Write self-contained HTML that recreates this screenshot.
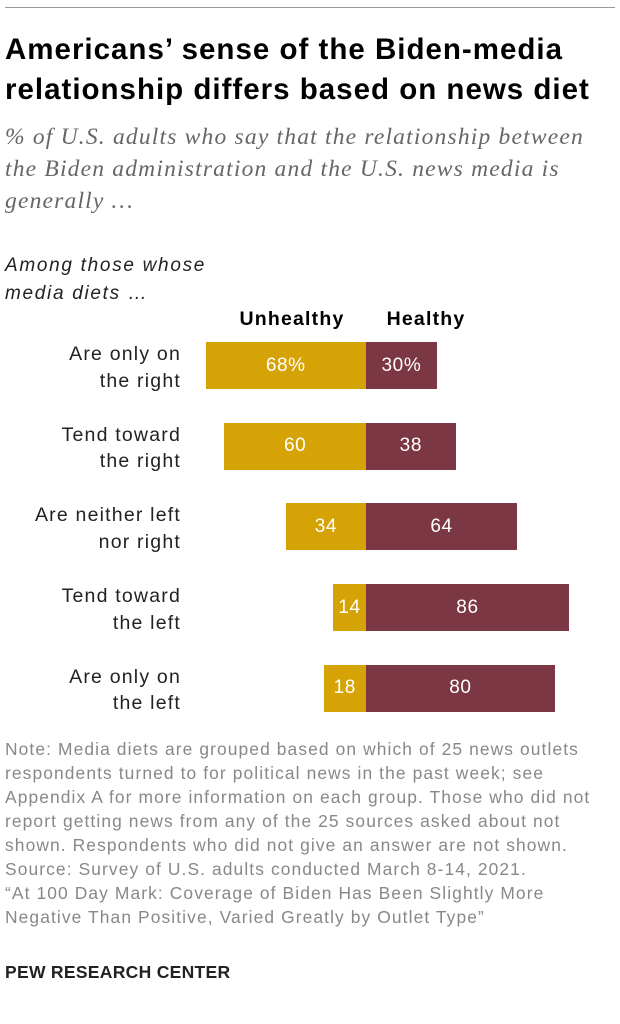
<!DOCTYPE html>
<html><head><meta charset="utf-8"><style>
body{margin:0;width:620px;height:1024px;background:#fff;font-family:"Liberation Sans",sans-serif;position:relative;overflow:hidden}
.abs{position:absolute;margin:0;white-space:nowrap}
</style></head><body>
<div class="abs" style="left:5px;top:7px;width:610px;height:1px;background:#999"></div>
<h1 class="abs" style="left:5px;top:30px;font-size:29.5px;line-height:40px;font-weight:bold;color:#000;letter-spacing:1.0px">Americans’ sense of the Biden-media<br>relationship differs based on news diet</h1>
<div class="abs" style="left:5px;top:121px;font-family:'Liberation Serif',serif;font-style:italic;font-size:23.5px;line-height:32px;color:#666;letter-spacing:1.2px">% of U.S. adults who say that the relationship between<br>the Biden administration and the U.S. news media is<br>generally …</div>
<div class="abs" style="left:5px;top:252px;font-style:italic;font-size:19px;line-height:28px;color:#222;letter-spacing:1.7px">Among those whose<br>media diets …</div>
<div class="abs" style="left:212px;top:308px;width:160px;text-align:center;font-weight:bold;font-size:19.5px;letter-spacing:1.2px">Unhealthy</div>
<div class="abs" style="left:366px;top:308px;width:120px;text-align:center;font-weight:bold;font-size:19.5px;letter-spacing:1.2px">Healthy</div>
<div id="chart"></div>
<div class="abs" style="left:5px;top:737px;font-size:17.4px;line-height:24px;color:#888;letter-spacing:1.1px">Note: Media diets are grouped based on which of 25 news outlets<br>respondents turned to for political news in the past week; see<br>Appendix A for more information on each group. Those who did not<br>report getting news from any of the 25 sources asked about not<br>shown. Respondents who did not give an answer are not shown.<br>Source: Survey of U.S. adults conducted March 8-14, 2021.<br>“At 100 Day Mark: Coverage of Biden Has Been Slightly More<br>Negative Than Positive, Varied Greatly by Outlet Type”</div>
<div class="abs" style="left:5px;top:962px;font-size:17.5px;font-weight:bold;color:#222;letter-spacing:0.3px">PEW RESEARCH CENTER</div>
<script>
const categories=[["Are only on","the right"],["Tend toward","the right"],["Are neither left","nor right"],["Tend toward","the left"],["Are only on","the left"]];
const unhealthy=[68,60,34,14,18];
const healthy=[30,38,64,86,80];
const unhealthyLabels=["68%","60","34","14","18"];
const healthyLabels=["30%","38","64","86","80"];
const c=document.getElementById('chart');
const zero=366,scale=2.36,top0=342,pitch=80.7,bh=47;
const xs=v=>v*scale;
categories.forEach((cat,i)=>{
  const y=top0+i*pitch;
  const l=document.createElement('div');
  l.className='abs';
  
  
  l.style.cssText=`right:${620-181}px;top:${y-1}px;text-align:right;font-size:19.5px;line-height:26.5px;color:#222;letter-spacing:1.2px`;
  l.innerHTML=cat[0]+'<br>'+cat[1];
  c.appendChild(l);
  const u=document.createElement('div');
  u.className='abs';
  
  
  u.style.cssText=`left:${zero-xs(unhealthy[i])}px;top:${y}px;width:${xs(unhealthy[i])}px;height:${bh}px;background:#d6a306;color:#fff;font-size:19px;letter-spacing:0.6px;display:flex;align-items:center;justify-content:center`;
  u.textContent=unhealthyLabels[i];
  c.appendChild(u);
  const h=document.createElement('div');
  h.className='abs';
  
  
  h.style.cssText=`left:${zero}px;top:${y}px;width:${xs(healthy[i])}px;height:${bh}px;background:#7c3744;color:#fff;font-size:19px;letter-spacing:0.6px;display:flex;align-items:center;justify-content:center`;
  h.textContent=healthyLabels[i];
  c.appendChild(h);
});
</script>
</body></html>
